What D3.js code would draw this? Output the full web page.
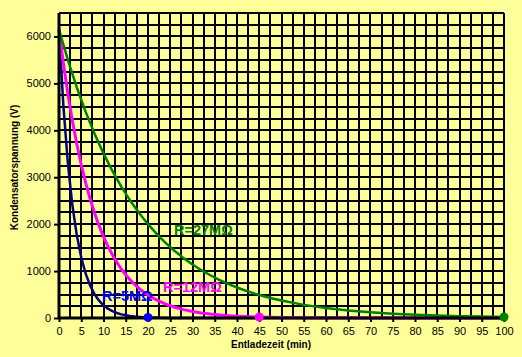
<!DOCTYPE html>
<html><head><meta charset="utf-8">
<script src="https://cdn.jsdelivr.net/npm/d3@7"></script>
<style>body{margin:0;background:#FFFF99;} svg{display:block;}</style>
</head><body>
<script>
// Data
const timeBlue = [0,1,2,3,4,5,6,7,8,9,10,11,12,13,14,15,16,17,18,19,20,25,30,40,50,60,70,80,90,100];
const voltBlue = [6150,4499,3292,2408,1762,1289,943,690,505,369,270,198,145,106,77,57,41,30,22,16,12,2,0,0,0,0,0,0,0,0];
const timeMagenta = [0,1,2,3,4,5,6,7,8,9,10,11,12,13,14,15,16,17,18,19,20,22,24,26,28,30,32,34,36,38,40,42,45,50,55,60,70,80,90,100];
const voltMagenta = [6150,5419,4774,4207,3707,3266,2878,2535,2234,1968,1734,1528,1346,1186,1045,921,812,715,630,555,489,380,295,229,178,138,107,83,65,50,39,30,21,11,6,3,1,0,0,0];
const timeGreen = [0,2,4,6,8,10,12,14,16,18,20,22,24,26,28,30,32,34,36,38,40,42,44,46,48,50,55,60,65,70,75,80,85,90,95,100];
const voltGreen = [6150,5496,4913,4390,3924,3507,3134,2801,2503,2237,1999,1787,1597,1427,1276,1140,1019,911,814,727,650,581,519,464,415,371,280,211,160,121,91,69,52,39,30,22];
const markerTimes = [20,45,100];
const markerVolts = [12,21,22];
const seriesNames = ["R=5MΩ","R=12MΩ","R=27MΩ"];
const xTicks = [0,5,10,15,20,25,30,35,40,45,50,55,60,65,70,75,80,85,90,95,100];
const yTicks = [0,1000,2000,3000,4000,5000,6000];

const W = 522, H = 357;
const L = 59, R = 504, T = 13, B = 318;
const FONT = "Arial, 'Liberation Sans', sans-serif";
const svg = d3.select("body").append("svg").attr("width", W).attr("height", H);
svg.append("rect").attr("width", W).attr("height", H).attr("fill", "#FFFF99");

const x = d3.scaleLinear().domain([0,100]).range([L,R]);
const y = d3.scaleLinear().domain([0,6500]).range([B,T]);

// grid
const g = svg.append("g").attr("shape-rendering","crispEdges");
g.selectAll("line.v").data(d3.range(0,100.01,2.5)).join("line").attr("class","v")
  .attr("x1", d=>Math.round(x(d))).attr("x2", d=>Math.round(x(d)))
  .attr("y1", T).attr("y2", B).attr("stroke","#000").attr("stroke-width",2);
g.selectAll("line.h").data(d3.range(0,6500.01,250)).join("line").attr("class","h")
  .attr("y1", d=>Math.round(y(d))).attr("y2", d=>Math.round(y(d)))
  .attr("x1", L).attr("x2", R).attr("stroke","#000").attr("stroke-width",2);

// lines
const mk = (ts, vs) => ts.map((t,i)=>[t, vs[i]]);
const line = d3.line().x(d=>x(d[0])).y(d=>y(d[1]));
const series = [
  {pts: mk(timeBlue, voltBlue), color:"#000080", w:2.5},
  {pts: mk(timeMagenta, voltMagenta), color:"#FF00FF", w:3},
  {pts: mk(timeGreen, voltGreen), color:"#008000", w:2.5}
];
series.forEach(s=>{
  svg.append("path").datum(s.pts).attr("d", line).attr("fill","none")
    .attr("stroke", s.color).attr("stroke-width", s.w).attr("stroke-linejoin","round");
});

// axes
const xAxis = d3.axisBottom(x).tickValues(xTicks).tickSize(4).tickPadding(5).tickFormat(d3.format("d"));
const yAxis = d3.axisLeft(y).tickValues(yTicks).tickSize(5).tickPadding(3).tickFormat(d3.format("d"));
const gx = svg.append("g").attr("transform",`translate(0,${B})`).call(xAxis);
const gy = svg.append("g").attr("transform",`translate(${L},0)`).call(yAxis);
[gx,gy].forEach(a=>{
  a.select(".domain").attr("stroke","#000").attr("stroke-width",3);
  a.selectAll(".tick line").attr("stroke","#000").attr("stroke-width",2);
  a.selectAll("text").attr("font-family",FONT).attr("font-size",11).attr("fill","#000");
});
gx.selectAll(".domain").attr("d", `M${L},0H${R}`);
gy.selectAll(".domain").attr("d", `M0,${B}V${T}`);
// top/right border
svg.append("line").attr("x1",L).attr("x2",R).attr("y1",T).attr("y2",T).attr("stroke","#000").attr("stroke-width",2);
svg.append("line").attr("x1",R).attr("x2",R).attr("y1",T).attr("y2",B).attr("stroke","#000").attr("stroke-width",2);

// markers
const markerColors = ["#0000FF","#FF00FF","#008000"];
svg.selectAll("circle.m").data(markerTimes).join("circle").attr("class","m")
  .attr("cx",(d,i)=>x(d)).attr("cy",(d,i)=>y(markerVolts[i])).attr("r",4.5)
  .attr("fill",(d,i)=>markerColors[i]);

// series labels
const labelPos = [[102,300.5],[163,292],[174,234.5]];
svg.selectAll("text.lab").data(seriesNames).join("text").attr("class","lab")
  .attr("x",(d,i)=>labelPos[i][0]).attr("y",(d,i)=>labelPos[i][1])
  .attr("font-family",FONT).attr("font-weight","bold")
  .attr("font-size",14.5).attr("fill",(d,i)=>markerColors[i]).text(d=>d);

// axis titles
svg.append("text").attr("x",271).attr("y",347.5).attr("text-anchor","middle")
  .attr("font-family",FONT).attr("font-weight","bold")
  .attr("font-size",10).text("Entladezeit (min)");
svg.append("text").attr("transform","translate(18,167.5) rotate(-90)").attr("text-anchor","middle")
  .attr("font-family",FONT).attr("font-weight","bold")
  .attr("font-size",10).text("Kondensatorspannung (V)");
</script>
</body></html>
